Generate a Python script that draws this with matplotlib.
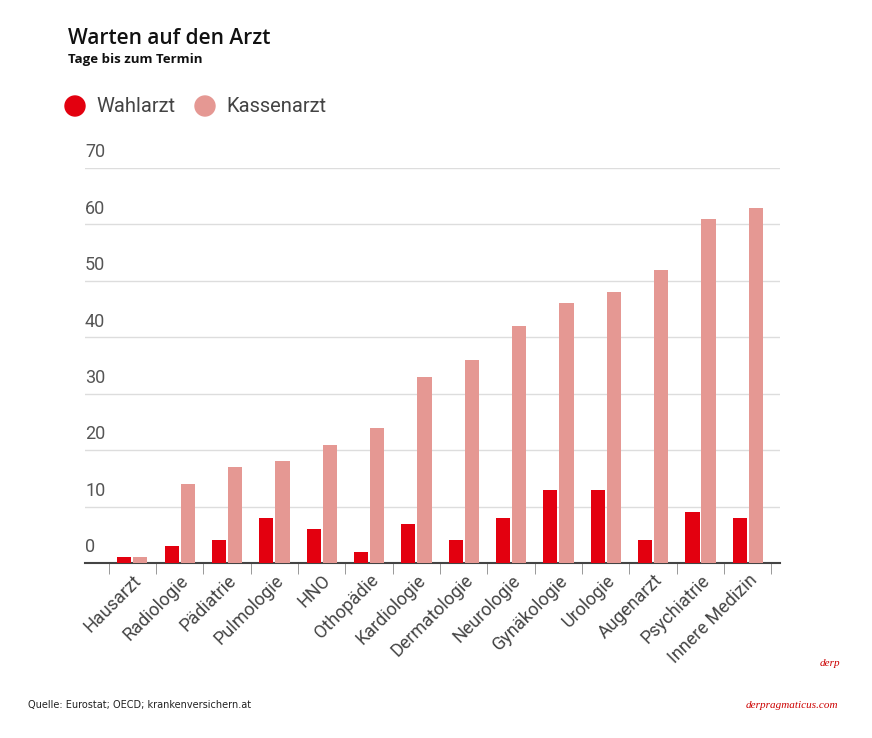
import matplotlib
matplotlib.use("Agg")
import matplotlib.pyplot as plt
import numpy as np

categories = ["Hausarzt","Radiologie","Pädiatrie","Pulmologie","HNO","Othopädie","Kardiologie",
              "Dermatologie","Neurologie","Gynäkologie","Urologie","Augenarzt","Psychiatrie","Innere Medizin"]
wahlarzt = [1,3,4,8,6,2,7,4,8,13,13,4,9,8]
kassenarzt = [1,14,17,18,21,24,33,36,42,46,48,52,61,63]
yticks = [0,10,20,30,40,50,60,70]

W, H = 872, 738
fig = plt.figure(figsize=(W/100, H/100), dpi=100)
ax = fig.add_axes([85/W, (738-563)/H, (780-85)/W, (563-168)/H])
red, pink = "#e3000f", "#e59893"
x = np.arange(len(categories))
bw = 0.3
ax.bar(x-0.17, wahlarzt, bw, color=red, zorder=3)
ax.bar(x+0.17, kassenarzt, bw, color=pink, zorder=3)
ax.set_xlim(-1.0, len(categories)-1+0.68)
ax.set_ylim(0, 70)
for s in ["top","right","left"]:
    ax.spines[s].set_visible(False)
ax.spines["bottom"].set_color("#444444")
ax.spines["bottom"].set_linewidth(1.5)
ax.set_yticks(yticks)
ax.yaxis.grid(True, color="#dddddd", lw=1, zorder=0)
ax.tick_params(axis="y", length=0, labelleft=False)
for v in yticks:
    ax.text(0, v+1.2, str(v), transform=ax.get_yaxis_transform(), ha="left", va="bottom",
            fontsize=13, color="#555555", family="Roboto")
ax.set_xticks(np.arange(len(categories)+1)-0.5, minor=True)
ax.tick_params(axis="x", which="minor", length=8, color="#888888")
ax.set_xticks(x)
ax.set_xticklabels(categories, rotation=45, ha="right", rotation_mode="anchor",
                   fontsize=13, color="#444444", family="Roboto")
ax.tick_params(axis="x", which="major", length=0, pad=6)

fig.text(68/W, 1-38/H, "Warten auf den Arzt", fontsize=15, color="#111111", va="center",
         family="Open Sans", weight="semibold")
fig.text(68/W, 1-60/H, "Tage bis zum Termin", fontsize=9.5, color="#111111", va="center", weight="bold", family="Open Sans")
for cx, col, lab in [(75, red, "Wahlarzt"), (205, pink, "Kassenarzt")]:
    fig.patches.append(matplotlib.patches.Ellipse((cx/W, 1-106/H), 20/W, 20/H, color=col,
                                                  transform=fig.transFigure, figure=fig))
    fig.text((cx+21)/W, 1-106/H, lab, fontsize=14.5, color="#444444", va="center", family="Roboto")
fig.text(28/W, 1-705/H, "Quelle: Eurostat; OECD; krankenversichern.at", fontsize=7, color="#222222", va="center")
fig.text(838/W, 1-705/H, "derpragmaticus.com", fontsize=8, color="#cc0000", ha="right", va="center",
         family="Liberation Serif", style="italic")
fig.text(840/W, 1-663/H, "derp", fontsize=8, color="#cc0000", ha="right", va="center",
         family="Liberation Serif", style="italic")
fig.savefig("out.png", dpi=100, facecolor="white")
